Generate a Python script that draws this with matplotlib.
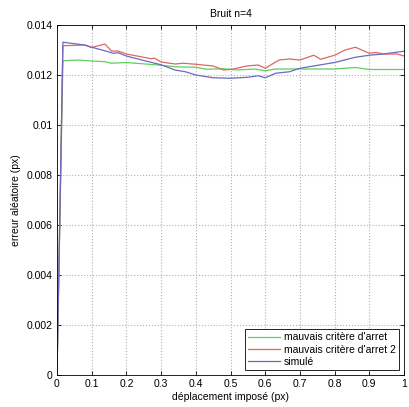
import numpy as np
import matplotlib
matplotlib.use('Agg')
import matplotlib.pyplot as plt

plt.rcParams['font.family'] = ['Liberation Sans', 'DejaVu Sans']

# Data
x_green = [0, 0.017, 0.06, 0.1, 0.138, 0.157, 0.2, 0.3, 0.34, 0.4, 0.43, 0.48,
           0.52, 0.57, 0.6, 0.63, 0.7, 0.8, 0.86, 0.9, 1.0]
y_green = [0, 0.01257, 0.0126, 0.01256, 0.01253, 0.01247, 0.0125, 0.01239,
           0.01233, 0.01231, 0.01223, 0.01225, 0.0122, 0.01224, 0.01217,
           0.01224, 0.01224, 0.01224, 0.0123, 0.01222, 0.01222]

x_red = [0, 0.017, 0.08, 0.1, 0.138, 0.157, 0.176, 0.2, 0.272, 0.28, 0.3, 0.34,
         0.364, 0.4, 0.45, 0.48, 0.505, 0.547, 0.58, 0.6, 0.64, 0.67, 0.7,
         0.74, 0.76, 0.8, 0.83, 0.86, 0.9, 0.92, 0.94, 0.98, 1.0]
y_red = [0, 0.01317, 0.0132, 0.0131, 0.01324, 0.01296, 0.01296, 0.01284,
         0.01265, 0.01268, 0.01252, 0.01244, 0.01247, 0.01243, 0.01236,
         0.0122, 0.01223, 0.01236, 0.0124, 0.01227, 0.0126, 0.01264, 0.0126,
         0.01279, 0.01263, 0.01279, 0.013, 0.01311, 0.01287, 0.0129,
         0.01284, 0.01284, 0.01276]

x_blue = [0, 0.017, 0.08, 0.1, 0.138, 0.162, 0.176, 0.2, 0.25, 0.3, 0.34, 0.37,
          0.4, 0.45, 0.5, 0.55, 0.58, 0.6, 0.63, 0.67, 0.7, 0.8, 0.86, 0.9,
          0.94, 1.0]
y_blue = [0, 0.01331, 0.0132, 0.01311, 0.01297, 0.01287, 0.01289, 0.01276,
          0.01258, 0.01241, 0.0122, 0.01213, 0.012, 0.01189, 0.01187, 0.01191,
          0.01197, 0.01189, 0.01207, 0.01213, 0.01227, 0.0125, 0.01271,
          0.01279, 0.01284, 0.01295]

labels = ["mauvais critère d'arret", "mauvais critère d'arret 2", "simulé"]

fig = plt.figure(figsize=(4.09, 4.07), dpi=100)
ax = fig.add_axes([57/409, 32/407, 347/409, 350/407])

ax.plot(x_green, y_green, color='#5fcf5f', lw=0.9, label=labels[0])
ax.plot(x_red, y_red, color='#e06565', lw=0.9, label=labels[1])
ax.plot(x_blue, y_blue, color='#6a6ac0', lw=0.9, label=labels[2])

ax.set_xlim(0, 1)
ax.set_ylim(0, 0.014)
ax.set_xticks(np.arange(0, 1.01, 0.1))
ax.set_xticklabels(['0', '0.1', '0.2', '0.3', '0.4', '0.5', '0.6', '0.7', '0.8', '0.9', '1'])
ax.set_yticks(np.arange(0, 0.0141, 0.002))
ax.set_yticklabels(['0', '0.002', '0.004', '0.006', '0.008', '0.01', '0.012', '0.014'])
ax.tick_params(labelsize=7.5, direction='in', length=3, width=0.6, pad=3)
ax.tick_params(top=True, right=True)
ax.grid(True, linestyle=':', color='#b0b0b0', lw=0.8)
for s in ax.spines.values():
    s.set_linewidth(0.6)

ax.set_title('Bruit n=4', fontsize=7.5)
ax.set_xlabel('déplacement imposé (px)', fontsize=7.5, labelpad=2)
ax.set_ylabel('erreur aléatoire (px)', fontsize=7.5, labelpad=4)

leg = ax.legend(loc='lower right', fontsize=7.5, fancybox=False, framealpha=1,
                edgecolor='black', borderaxespad=0.5, handlelength=3.0,
                borderpad=0.3, labelspacing=0.2, handletextpad=0.4)
leg.get_frame().set_linewidth(0.6)

fig.savefig('out.png', dpi=100)
